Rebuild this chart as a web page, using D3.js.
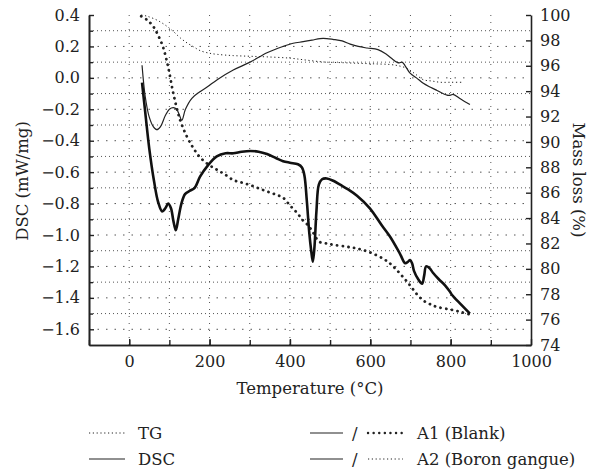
<!DOCTYPE html>
<html>
<head>
  <script src="https://d3js.org/d3.v7.min.js"></script>
  <style>
    body { margin: 0; background: #fff; }
    svg text { font-family: "DejaVu Serif", "Liberation Serif", serif; fill: #222; }
  </style>
</head>
<body>
  <div id="chart"></div>
  <script>
    // temperatures (°C) and readings, left axis = DSC (mW/mg), right axis = mass (%)
    var a1DscT = [32, 40, 50, 62, 72, 82, 90, 97, 104, 110, 116, 122, 130, 139, 150, 163, 176, 195, 218, 240, 259, 280, 301, 322, 343, 365, 383, 400, 420, 430, 436, 442, 448, 453, 457, 461, 466, 472, 480, 492, 508, 525, 545, 567, 599, 629, 649, 674, 687, 694, 699, 704, 709, 719, 729, 734, 739, 747, 756, 770, 786, 798, 803, 825, 848];
    var a1DscV = [-0.03, -0.22, -0.45, -0.66, -0.79, -0.85, -0.83, -0.80, -0.83, -0.91, -0.97, -0.90, -0.80, -0.74, -0.72, -0.70, -0.63, -0.56, -0.50, -0.48, -0.48, -0.47, -0.465, -0.47, -0.485, -0.51, -0.53, -0.54, -0.55, -0.57, -0.62, -0.78, -0.98, -1.10, -1.17, -1.08, -0.85, -0.68, -0.645, -0.64, -0.655, -0.68, -0.71, -0.75, -0.83, -0.94, -1.01, -1.12, -1.18, -1.17, -1.16, -1.18, -1.23, -1.28, -1.31, -1.26, -1.20, -1.21, -1.24, -1.28, -1.32, -1.36, -1.38, -1.44, -1.50];

    var a2DscT = [32, 40, 50, 60, 69, 78, 90, 100, 110, 118, 124, 131, 140, 156, 175, 193, 220, 259, 301, 343, 383, 408, 433, 455, 475, 492, 507, 530, 550, 570, 592, 619, 640, 655, 666, 672, 679, 686, 699, 715, 732, 750, 766, 791, 800, 806, 825, 848];
    var a2DscV = [0.08, -0.12, -0.25, -0.31, -0.33, -0.31, -0.24, -0.20, -0.19, -0.20, -0.23, -0.27, -0.20, -0.13, -0.09, -0.06, -0.01, 0.05, 0.10, 0.16, 0.20, 0.22, 0.23, 0.24, 0.25, 0.25, 0.245, 0.235, 0.215, 0.20, 0.19, 0.18, 0.15, 0.12, 0.10, 0.095, 0.10, 0.08, 0.03, 0.00, -0.035, -0.06, -0.08, -0.11, -0.11, -0.105, -0.135, -0.17];

    var a1TgT = [30, 45, 60, 72, 84, 97, 110, 127, 144, 160, 176, 198, 219, 240, 259, 280, 301, 322, 343, 365, 383, 400, 418, 433, 446, 457, 466, 475, 490, 507, 540, 567, 599, 632, 650, 666, 683, 699, 716, 732, 750, 766, 798, 825, 848];
    var a1TgV = [99.9, 99.6, 99.1, 98.4, 97.5, 95.9, 93.8, 91.7, 90.4, 89.5, 88.8, 88.2, 87.8, 87.4, 87.0, 86.8, 86.6, 86.35, 86.1, 85.85, 85.6, 85.0, 84.4, 83.8, 83.4, 82.9, 82.4, 82.1, 82.0, 81.9, 81.75, 81.6, 81.3, 80.8, 80.4, 79.9, 79.3, 78.7, 78.0, 77.5, 77.2, 77.0, 76.8, 76.6, 76.4];

    var a2TgT = [30, 45, 69, 90, 110, 127, 144, 160, 176, 198, 219, 259, 301, 343, 400, 440, 483, 525, 567, 610, 649, 670, 691, 712, 732, 753, 774, 800, 828];
    var a2TgV = [100, 99.9, 99.6, 99.2, 98.7, 98.2, 97.8, 97.5, 97.2, 97.0, 96.9, 96.8, 96.75, 96.7, 96.6, 96.45, 96.3, 96.25, 96.2, 96.15, 96.1, 96.0, 95.8, 95.35, 94.9, 94.8, 94.7, 94.7, 94.7];

    var dscTicks = [-1.6, -1.4, -1.2, -1.0, -0.8, -0.6, -0.4, -0.2, 0.0, 0.2, 0.4];
    var dscMinor = [-1.5, -1.3, -1.1, -0.9, -0.7, -0.5, -0.3, -0.1, 0.1, 0.3];
    var massTicks = [74, 76, 78, 80, 82, 84, 86, 88, 90, 92, 94, 96, 98, 100];
    var tempTicks = [0, 200, 400, 600, 800, 1000];
    var tempMinor = [-100, 0, 100, 200, 300, 400, 500, 600, 700, 800, 900];

    var W = 592, H = 475;
    var svg = d3.select('#chart').append('svg')
      .attr('width', W)
      .attr('height', H);

    var x = d3.scaleLinear().domain([-100, 1000]).range([89, 531]);
    var yL = d3.scaleLinear().domain([-1.7, 0.4]).range([345, 15]);
    var yR = d3.scaleLinear().domain([74, 100]).range([345, 15]);

    // grid
    var grid = svg.append('g').attr('stroke', '#555').attr('stroke-width', 1).attr('fill', 'none');
    grid.selectAll('.gv').data(tempMinor.filter(function(d) { return d > -100; }))
      .enter().append('line')
      .attr('x1', function(d) { return x(d); }).attr('x2', function(d) { return x(d); })
      .attr('y1', 345).attr('y2', 15)
      .attr('stroke-dasharray', '1,6');
    grid.selectAll('.gh').data(dscTicks.filter(function(d) { return d < 0.4; }))
      .enter().append('line')
      .attr('x1', 89).attr('x2', 531)
      .attr('y1', function(d) { return yL(d); }).attr('y2', function(d) { return yL(d); })
      .attr('stroke-dasharray', '1.5,7');
    grid.selectAll('.gm').data(dscMinor)
      .enter().append('line')
      .attr('x1', 89).attr('x2', 531)
      .attr('y1', function(d) { return yL(d); }).attr('y2', function(d) { return yL(d); })
      .attr('stroke-dasharray', '1,3');

    // axes
    svg.append('g').attr('transform', 'translate(89,0)')
      .call(d3.axisLeft(yL).tickValues(dscTicks).tickFormat(d3.format('.1f')).tickSizeInner(-5).tickSizeOuter(0).tickPadding(9));
    svg.append('g').attr('transform', 'translate(89,0)')
      .call(d3.axisLeft(yL).tickValues(dscMinor).tickFormat('').tickSizeInner(-4).tickSizeOuter(0));
    svg.append('g').attr('transform', 'translate(531,0)')
      .call(d3.axisRight(yR).tickValues(massTicks).tickFormat(d3.format('d')).tickSizeInner(-5).tickSizeOuter(0).tickPadding(9));
    svg.append('g').attr('transform', 'translate(0,345)')
      .call(d3.axisBottom(x).tickValues(tempTicks).tickFormat(d3.format('d')).tickSizeInner(-6).tickSizeOuter(0).tickPadding(11));
    svg.append('g').attr('transform', 'translate(0,345)')
      .call(d3.axisBottom(x).tickValues(tempMinor).tickFormat('').tickSizeInner(-5).tickSizeOuter(0));

    svg.selectAll('.domain').attr('stroke', '#222').attr('stroke-width', 1.6);
    svg.selectAll('.tick line').attr('stroke', '#222').attr('stroke-width', 1.4);
    svg.selectAll('.tick text').attr('font-size', 16).attr('fill', '#222');

    // axis titles
    svg.append('text')
      .attr('transform', 'translate(28,181) rotate(-90)')
      .attr('text-anchor', 'middle')
      .attr('font-size', 16.5)
      .text('DSC (mW/mg)');
    svg.append('text')
      .attr('transform', 'translate(573,180) rotate(90)')
      .attr('text-anchor', 'middle')
      .attr('font-size', 16.5)
      .text('Mass loss (%)');
    svg.append('text')
      .attr('x', 310).attr('y', 394)
      .attr('text-anchor', 'middle')
      .attr('font-size', 16.5)
      .text('Temperature (°C)');

    // curves
    function series(ts, vs, ys) {
      return ts.map(function(t, i) { return [x(t), ys(vs[i])]; });
    }
    var line = d3.line().curve(d3.curveCatmullRom.alpha(0.5));

    svg.append('path')
      .attr('d', line(series(a2TgT, a2TgV, yR)))
      .attr('fill', 'none').attr('stroke', '#222').attr('stroke-width', 1)
      .attr('stroke-dasharray', '1.2,2.6');
    svg.append('path')
      .attr('d', line(series(a1TgT, a1TgV, yR)))
      .attr('fill', 'none').attr('stroke', '#222').attr('stroke-width', 2.8)
      .attr('stroke-linecap', 'round')
      .attr('stroke-dasharray', '0.1,5.6');
    svg.append('path')
      .attr('d', line(series(a2DscT, a2DscV, yL)))
      .attr('fill', 'none').attr('stroke', '#222').attr('stroke-width', 1.2);
    svg.append('path')
      .attr('d', line(series(a1DscT, a1DscV, yL)))
      .attr('fill', 'none').attr('stroke', '#111').attr('stroke-width', 2.6)
      .attr('stroke-linejoin', 'round');

    // legend
    var lg = svg.append('g').attr('font-size', 16.5);
    var r1 = 433, r2 = 459;
    lg.append('line').attr('x1', 89).attr('x2', 125).attr('y1', r1).attr('y2', r1)
      .attr('stroke', '#222').attr('stroke-width', 1).attr('stroke-dasharray', '1.2,2.6');
    lg.append('text').attr('x', 138).attr('y', r1 + 6).text('TG');
    lg.append('line').attr('x1', 89).attr('x2', 125).attr('y1', r2).attr('y2', r2)
      .attr('stroke', '#222').attr('stroke-width', 1.2);
    lg.append('text').attr('x', 138).attr('y', r2 + 6).text('DSC');

    [[r1, 'A1 (Blank)', true], [r2, 'A2 (Boron gangue)', false]].forEach(function(r) {
      lg.append('line').attr('x1', 310).attr('x2', 343).attr('y1', r[0]).attr('y2', r[0])
        .attr('stroke', '#222').attr('stroke-width', 1.2);
      lg.append('text').attr('x', 352).attr('y', r[0] + 6).text('/');
      lg.append('line').attr('x1', 368).attr('x2', 403).attr('y1', r[0]).attr('y2', r[0])
        .attr('stroke', '#222')
        .attr('stroke-width', r[2] ? 2.4 : 1)
        .attr('stroke-linecap', r[2] ? 'round' : 'butt')
        .attr('stroke-dasharray', r[2] ? '0.1,5.5' : '1.2,2.6');
      lg.append('text').attr('x', 417).attr('y', r[0] + 6).text(r[1]);
    });
  </script>
</body>
</html>
